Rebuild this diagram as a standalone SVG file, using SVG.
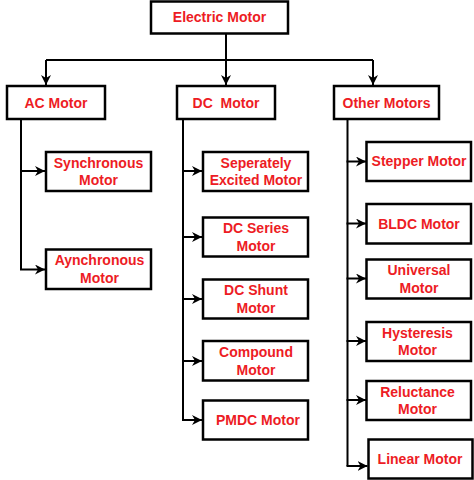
<svg xmlns="http://www.w3.org/2000/svg" width="474" height="480" viewBox="0 0 474 480">
<style>
.box{fill:#fff;stroke:#000;stroke-width:2.5}
.t{font-family:"Liberation Sans",Arial,sans-serif;font-weight:bold;font-size:14px;fill:#ed1c24;text-anchor:middle}
.c{fill:none;stroke:#000;stroke-width:2}
</style>
<defs>
<marker id="ah" markerUnits="userSpaceOnUse" markerWidth="11" markerHeight="11" refX="10" refY="5" orient="auto">
<path d="M0,0 L10,5 L0,10 L3,5 Z" fill="#000"/>
</marker>
</defs>
<rect width="474" height="480" fill="#fff"/>
<g id="connectors">
<path class="c" d="M226,34 V60"/>
<path class="c" d="M46,60 H373"/>
<path class="c" d="M46,60 V85" marker-end="url(#ah)"/>
<path class="c" d="M226,60 V85" marker-end="url(#ah)"/>
<path class="c" d="M373,60 V85" marker-end="url(#ah)"/>
<path class="c" d="M21,119 V269.5"/>
<path class="c" d="M20,171 H45" marker-end="url(#ah)"/>
<path class="c" d="M20,269.5 H45" marker-end="url(#ah)"/>
<path class="c" d="M183,119 V420"/>
<path class="c" d="M182,171 H202" marker-end="url(#ah)"/>
<path class="c" d="M182,237 H202" marker-end="url(#ah)"/>
<path class="c" d="M182,299 H202" marker-end="url(#ah)"/>
<path class="c" d="M182,361 H202" marker-end="url(#ah)"/>
<path class="c" d="M182,420 H202" marker-end="url(#ah)"/>
<path class="c" d="M347.5,119 V466"/>
<path class="c" d="M346.5,161.5 H366" marker-end="url(#ah)"/>
<path class="c" d="M346.5,223.5 H366" marker-end="url(#ah)"/>
<path class="c" d="M346.5,278.5 H366" marker-end="url(#ah)"/>
<path class="c" d="M346.5,341 H366" marker-end="url(#ah)"/>
<path class="c" d="M346.5,400 H366" marker-end="url(#ah)"/>
<path class="c" d="M346.5,466 H367.5" marker-end="url(#ah)"/>
</g>
<g id="electric-motor"><rect class="box" x="151" y="1.5" width="137" height="32"/><text class="t" x="219.5" y="22">Electric Motor</text></g>
<g id="ac-motor"><rect class="box" x="7" y="86" width="98" height="33"/><text class="t" x="56" y="107.5">AC Motor</text></g>
<g id="dc-motor"><rect class="box" x="177" y="86" width="98" height="33"/><text class="t" x="226" y="107.5" xml:space="preserve">DC  Motor</text></g>
<g id="other-motors"><rect class="box" x="334" y="86" width="105" height="33"/><text class="t" x="386.5" y="107.5">Other Motors</text></g>
<g id="synchronous"><rect class="box" x="46" y="152" width="105" height="39"/><text class="t" x="98.5" y="167.5">Synchronous</text><text class="t" x="98.5" y="185">Motor</text></g>
<g id="aynchronous"><rect class="box" x="46" y="249.5" width="105" height="39.5"/><text class="t" x="99.5" y="265">Aynchronous</text><text class="t" x="99.5" y="283">Motor</text></g>
<g id="separately-excited"><rect class="box" x="203" y="152" width="105" height="39"/><text class="t" x="256" y="167.5">Seperately</text><text class="t" x="256" y="185">Excited Motor</text></g>
<g id="dc-series"><rect class="box" x="203" y="217.5" width="105" height="39"/><text class="t" x="256" y="233">DC Series</text><text class="t" x="256" y="250.5">Motor</text></g>
<g id="dc-shunt"><rect class="box" x="203" y="279.5" width="105" height="39"/><text class="t" x="256" y="295">DC Shunt</text><text class="t" x="256" y="312.5">Motor</text></g>
<g id="compound"><rect class="box" x="203" y="341" width="105" height="39.5"/><text class="t" x="256" y="357">Compound</text><text class="t" x="256" y="374.5">Motor</text></g>
<g id="pmdc"><rect class="box" x="203" y="400.5" width="105" height="39"/><text class="t" x="258" y="425">PMDC Motor</text></g>
<g id="stepper"><rect class="box" x="366.5" y="142" width="104.5" height="39"/><text class="t" x="419" y="166">Stepper Motor</text></g>
<g id="bldc"><rect class="box" x="366.5" y="204" width="104.5" height="39.5"/><text class="t" x="419" y="228.5">BLDC Motor</text></g>
<g id="universal"><rect class="box" x="366.5" y="259.5" width="104.5" height="39"/><text class="t" x="419" y="275">Universal</text><text class="t" x="419" y="292.5">Motor</text></g>
<g id="hysteresis"><rect class="box" x="366.5" y="322" width="104.5" height="39"/><text class="t" x="417.5" y="337.5">Hysteresis</text><text class="t" x="417.5" y="355">Motor</text></g>
<g id="reluctance"><rect class="box" x="366.5" y="381" width="104.5" height="39"/><text class="t" x="417.5" y="396.5">Reluctance</text><text class="t" x="417.5" y="414">Motor</text></g>
<g id="linear"><rect class="box" x="368.5" y="439.5" width="104" height="39"/><text class="t" x="420" y="463.5">Linear Motor</text></g>
</svg>
